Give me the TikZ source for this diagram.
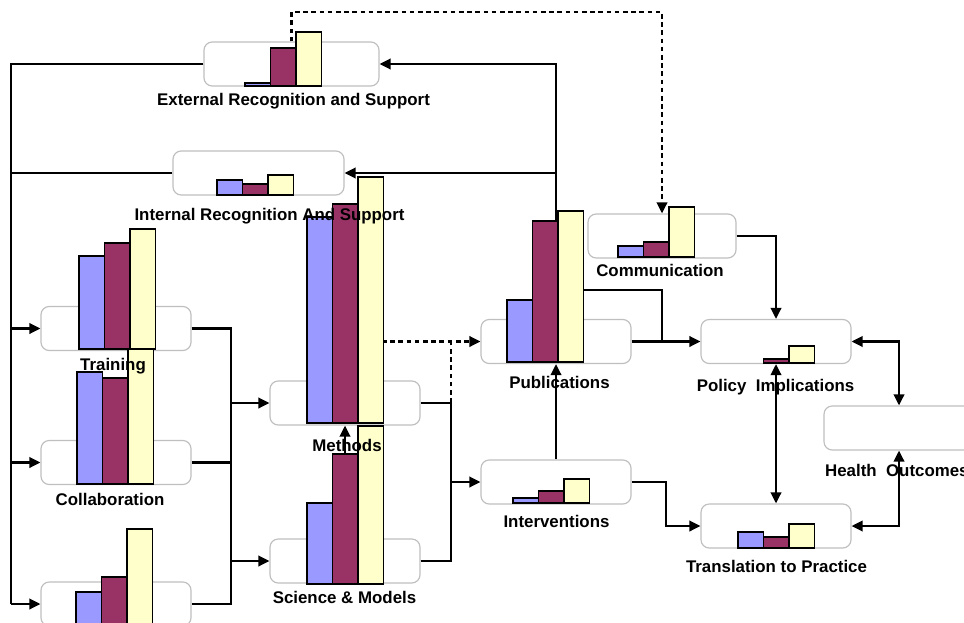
\documentclass[tikz,border=0pt]{standalone}
\usepackage{fontspec}
\setmainfont{Liberation Sans}
\usepackage{tikz}
\usetikzlibrary{arrows.meta}

\definecolor{barblue}{HTML}{9999FF}
\definecolor{barred}{HTML}{993366}
\definecolor{baryellow}{HTML}{FFFFCC}
\definecolor{boxgray}{HTML}{BFBFBF}

% three bars: left x, bottom y, tops of blue, red, yellow
\newcommand{\chart}[5]{%
  \draw[bar, fill=barblue] (#1,#2) rectangle ({#1+25.5},#3);
  \draw[bar, fill=barred] ({#1+25.5},#2) rectangle ({#1+51},#4);
  \draw[bar, fill=baryellow] ({#1+51},#2) rectangle ({#1+76.5},#5);
}

\begin{document}
\begin{tikzpicture}[x=0.03cm, y=-0.03cm, line width=2pt, >={Triangle[length=9.5pt,width=9pt]}]
    % Define styles
    \tikzstyle{box} = [rectangle, rounded corners=7pt, draw=boxgray, line width=1pt, fill=white, minimum width=4.5cm, minimum height=1.32cm, inner sep=0pt]
    \tikzstyle{lbl} = [anchor=base, inner sep=0pt, font=\bfseries\fontsize{14.4}{17}\selectfont]
    \tikzstyle{bar} = [draw=black, line width=0.9pt]
    \tikzstyle{dashlink} = [dash pattern=on 4pt off 3pt]

    \useasboundingbox (0,0) rectangle (964,622);
    \clip (0,0) rectangle (964,622);

    % Boxes
    \node[box, minimum width=5.25cm] (ext) at (291.5,64) {};
    \node[box, minimum width=5.13cm] (int) at (258.5,173) {};
    \node[box] (train) at (116,328.5) {};
    \node[box] (collab) at (116,462.5) {};
    \node[box] (base) at (116,604) {};
    \node[box] (meth) at (345,403) {};
    \node[box] (sci) at (345,561) {};
    \node[box] (pubs) at (556,341.5) {};
    \node[box] (intv) at (556,482) {};
    \node[box, minimum width=4.44cm] (comm) at (662,236) {};
    \node[box] (pol) at (776,341.5) {};
    \node[box] (trans) at (776,526) {};
    \node[box] (health) at (899,428) {};

    % Bus lines
    \coordinate (lbus) at (11,0);
    \coordinate (mbus) at (231,0);
    \coordinate (rbus) at (451,0);
    \coordinate (ibus) at (666,0);
    \coordinate (pbus) at (662,290);
    \coordinate (dtop) at (0,12);
    \coordinate (methtop) at (382,341.5);

    % Connections
    \draw (ext.west) -| (lbus |- base.west);
    \draw (int.west) -- (int.west -| lbus);
    \draw[->] (lbus |- train.west) -- (train.west);
    \draw[->] (lbus |- collab.west) -- (collab.west);
    \draw[->] (lbus |- base.west) -- (base.west);
    \draw (train.east) -| (mbus |- base.east) -- (base.east);
    \draw (collab.east) -- (collab.east -| mbus);
    \draw[->] (mbus |- meth.west) -- (meth.west);
    \draw[->] (mbus |- sci.west) -- (sci.west);
    \draw[->] (sci.north) -- (meth.south);
    \draw (meth.east) -| (rbus |- sci.east) -- (sci.east);
    \draw[->] (rbus |- intv.west) -- (intv.west);
    \draw[dashlink, ->] (methtop) -- (pubs.west);
    \draw[dashlink] (sci.east) -| (rbus |- pubs.west);
    \draw[->] (intv.north) -- (pubs.south);
    \draw[->] (pubs.north) |- (ext.east);
    \draw[->] (pubs.north |- int.east) -- (int.east);
    \draw (pubs.north |- pbus) -- (pbus) -- (pbus |- pol.west);
    \draw[->] (pubs.east) -- (pol.west);
    \draw[dashlink, ->] (ext.north) -- (ext.north |- dtop) -| (comm.north);
    \draw[->] (comm.east) -| (pol.north);
    \draw[<->] (pol.south) -- (trans.north);
    \draw[<->] (pol.east) -| (health.north);
    \draw[<->] (trans.east) -| (health.south);
    \draw[->] (intv.east) -| (ibus |- trans.west) -- (trans.west);

    % Bar charts
    \chart{245}{86}{83}{48}{32}
    \chart{217}{195}{180}{184}{175}
    \chart{79}{349}{256}{243}{229}
    \chart{77}{484}{372}{378}{349}
    \chart{76}{626}{592}{577}{529}
    \chart{307}{423}{217}{204}{177}
    \chart{307}{584}{503}{454}{426}
    \chart{507}{362}{300}{221}{211}
    \chart{513}{503}{498}{491}{479}
    \chart{618}{257}{246}{242}{207}
    \draw[bar, fill=barred] (763.5,363) rectangle (789,359);
    \draw[bar, fill=baryellow] (789,363) rectangle (814.5,346);
    \chart{738}{548}{532}{537}{524}

    % Labels
    \node[lbl] (extlbl) at (293.5,106) {External Recognition and Support};
    \node[lbl] (intlbl) at (269.5,220) {Internal Recognition And Support};
    \node[lbl] (trainlbl) at (113,370) {Training};
    \node[lbl] (collablbl) at (110,505) {Collaboration};
    \node[lbl] (methlbl) at (347,451) {Methods};
    \node[lbl] (scilbl) at (344.5,603) {Science \& Models};
    \node[lbl] (pubslbl) at (559.5,388) {Publications};
    \node[lbl] (intvlbl) at (556.5,527) {Interventions};
    \node[lbl] (commlbl) at (660,276) {Communication};
    \node[lbl] (pollbl) at (775.5,391) {Policy~~Implications};
    \node[lbl] (translbl) at (776.5,572) {Translation to Practice};
    \node[lbl, anchor=base west] (healthlbl) at (824,476) {Health~~Outcomes};
\end{tikzpicture}
\end{document}
